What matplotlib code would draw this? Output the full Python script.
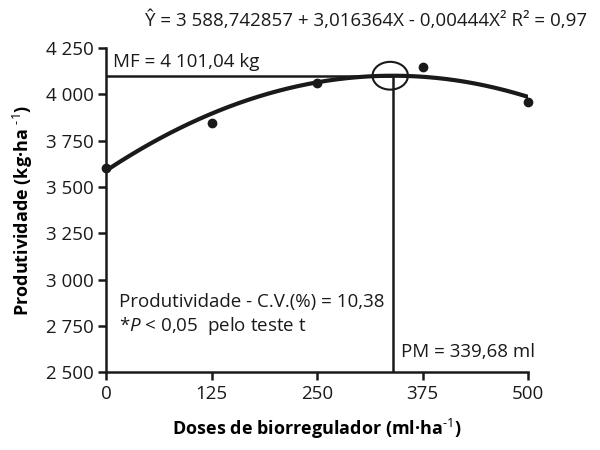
import numpy as np
import matplotlib
matplotlib.use("Agg")
import matplotlib.pyplot as plt
from matplotlib.patches import Ellipse

plt.rcParams['font.family'] = ['Open Sans', 'DejaVu Sans']
plt.rcParams['mathtext.fontset'] = 'custom'
plt.rcParams['mathtext.rm'] = 'Open Sans'
plt.rcParams['mathtext.it'] = 'Open Sans:italic'
plt.rcParams['mathtext.bf'] = 'Open Sans:bold'

# data
doses = [0, 125, 250, 375, 500]
produtividade = [3600, 3845, 4060, 4150, 3960]
xticks = [0, 125, 250, 375, 500]
yticks = [2500, 2750, 3000, 3250, 3500, 3750, 4000, 4250]
ytick_labels = ["2 500", "2 750", "3 000", "3 250", "3 500", "3 750", "4 000", "4 250"]
# regression coefficients shown on the chart
b0, b1, b2 = 3588.742857, 3.016364, -0.00444
PM = 339.68
MF = 4101.04

FS = 13.5
fig = plt.figure(figsize=(6, 4.5), dpi=100)
ax = fig.add_axes([0.177, 0.173, 0.703, 0.72])

xs = np.linspace(0, 500, 300)
ax.plot(xs, b0 + b1 * xs + b2 * xs ** 2, color='#1a1a1a', lw=3, solid_capstyle='round', zorder=3)
ax.plot(doses, produtividade, 'o', color='#1a1a1a', ms=6, zorder=4, clip_on=False)

ax.plot([0, PM], [MF, MF], color='#1a1a1a', lw=1.8)
ax.plot([PM, PM], [2500, MF], color='#1a1a1a', lw=1.8)
ax.add_patch(Ellipse((PM - 3, MF), 42, 150, fill=False, ec='#1a1a1a', lw=1.5, zorder=5))

ax.set_xlim(0, 500)
ax.set_ylim(2500, 4250)
ax.set_xticks(xticks)
ax.set_yticks(yticks)
ax.set_yticklabels(ytick_labels)
for s in ['top', 'right']:
    ax.spines[s].set_visible(False)
for s in ['left', 'bottom']:
    ax.spines[s].set_linewidth(1.8)
    ax.spines[s].set_color('#1a1a1a')
ax.tick_params(axis='both', direction='out', length=6, width=1.8, labelsize=FS, colors='#1a1a1a')
ax.tick_params(axis='x', pad=3)
ax.tick_params(axis='y', pad=3)

ax.set_xlabel(r'Doses de biorregulador (ml·ha$^{\text{-1}}$)', fontsize=13, fontweight='bold', labelpad=10)
ax.set_ylabel(r'Produtividade (kg·ha $^{\text{-1}}$)', fontsize=13, fontweight='bold', labelpad=8)

ax.text(8, MF + 25, 'MF = 4 101,04 kg', fontsize=FS, color='#1a1a1a', va='bottom')
ax.text(PM + 10, 2560, 'PM = 339,68 ml', fontsize=FS, color='#1a1a1a', va='bottom')
ax.text(15, 2880, 'Produtividade - C.V.(%) = 10,38', fontsize=FS, color='#1a1a1a', va='center')
ax.text(15, 2750, r'*$\mathit{P}$ < 0,05  pelo teste t', fontsize=FS, color='#1a1a1a', va='center')
fig.text(0.978, 0.955, 'Ŷ = 3 588,742857 + 3,016364X - 0,00444X² R² = 0,97',
         fontsize=FS, color='#1a1a1a', ha='right', va='center')

fig.savefig('out.png', dpi=100)
